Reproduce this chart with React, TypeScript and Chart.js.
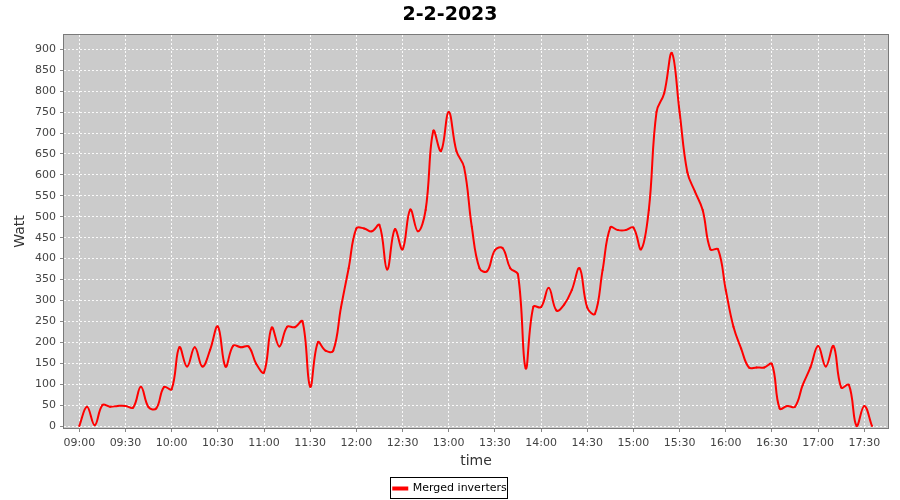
import React, { useEffect, useRef } from "react";
import { Chart, registerables } from "chart.js";

Chart.register(...registerables);

const chartTitle = "2-2-2023";
const seriesLabel = "Merged inverters";
const xTitle = "time";
const yTitle = "Watt";

const times = [
  "09:00", "09:05", "09:10", "09:15", "09:20", "09:25", "09:30", "09:35", "09:40", "09:45", "09:50", "09:55",
  "10:00", "10:05", "10:10", "10:15", "10:20", "10:25", "10:30", "10:35", "10:40", "10:45", "10:50", "10:55",
  "11:00", "11:05", "11:10", "11:15", "11:20", "11:25", "11:30", "11:35", "11:40", "11:45", "11:50", "11:55",
  "12:00", "12:05", "12:10", "12:15", "12:20", "12:25", "12:30", "12:35", "12:40", "12:45", "12:50", "12:55",
  "13:00", "13:05", "13:10", "13:15", "13:20", "13:25", "13:30", "13:35", "13:40", "13:45", "13:50", "13:55",
  "14:00", "14:05", "14:10", "14:15", "14:20", "14:25", "14:30", "14:35", "14:40", "14:45", "14:50", "14:55",
  "15:00", "15:05", "15:10", "15:15", "15:20", "15:25", "15:30", "15:35", "15:40", "15:45", "15:50", "15:55",
  "16:00", "16:05", "16:10", "16:15", "16:20", "16:25", "16:30", "16:35", "16:40", "16:45", "16:50", "16:55",
  "17:00", "17:05", "17:10", "17:15", "17:20", "17:25", "17:30", "17:35",
];

const watts = [
  0, 46, 2, 50, 46, 48, 48, 44, 94, 45, 42, 93,
  88, 188, 142, 188, 142, 182, 238, 142, 192, 188, 190, 148,
  128, 235, 190, 237, 236, 250, 94, 200, 180, 180, 283, 377,
  472, 472, 465, 480, 374, 470, 422, 517, 465, 516, 705, 657,
  750, 657, 618, 476, 377, 370, 420, 425, 377, 362, 138, 285,
  284, 330, 276, 290, 325, 377, 283, 268, 373, 474, 468, 468,
  474, 422, 516, 750, 795, 891, 750, 607, 560, 516, 422, 422,
  325, 237, 185, 140, 140, 140, 148, 42, 48, 46, 98, 140,
  191, 142, 191, 92, 98, 0, 48, 0,
];

const xTickLabels = [
  "09:00", "09:30", "10:00", "10:30", "11:00", "11:30", "12:00", "12:30", "13:00",
  "13:30", "14:00", "14:30", "15:00", "15:30", "16:00", "16:30", "17:00", "17:30",
];

const yTickValues = [0, 50, 100, 150, 200, 250, 300, 350, 400, 450, 500, 550, 600, 650, 700, 750, 800, 850, 900];

const toMinutes = (s: string) => {
  const [h, m] = s.split(":").map(Number);
  return h * 60 + m;
};
const fmt = (v: number) => {
  const h = Math.floor(v / 60);
  const m = Math.round(v - h * 60);
  return String(h).padStart(2, "0") + ":" + String(m).padStart(2, "0");
};

const FONT = "'DejaVu Sans', sans-serif";
const PAD_BOTTOM = -4;

const plotBgPlugin = {
  id: "plotBg",
  beforeDraw(chart: any) {
    const { ctx, chartArea: a } = chart;
    ctx.save();
    ctx.fillStyle = "#cbcbcb";
    ctx.fillRect(a.left, a.top, a.right - a.left, a.bottom - a.top);
    ctx.restore();
  },
  afterDraw(chart: any) {
    const { ctx, chartArea: a } = chart;
    ctx.save();
    ctx.strokeStyle = "#7a7a7a";
    ctx.lineWidth = 1;
    ctx.strokeRect(Math.round(a.left) - 0.5, Math.round(a.top) - 0.5, Math.round(a.right - a.left) + 1, Math.round(a.bottom - a.top) + 1);
    const lg = chart.legend;
    if (lg && lg.legendHitBoxes && lg.legendHitBoxes.length) {
      const hb = lg.legendHitBoxes[0];
      ctx.strokeStyle = "#000";
      ctx.strokeRect(Math.round(hb.left) - 2.5, Math.round(hb.top) - 5.5, Math.round(hb.width) + 4, Math.round(hb.height) + 10);
    }
    ctx.restore();
  },
};

export default function App() {
  const ref = useRef<HTMLCanvasElement | null>(null);

  useEffect(() => {
    if (!ref.current) return;
    const points = times.map((t, i) => ({ x: toMinutes(t), y: watts[i] }));
    const x0 = toMinutes(xTickLabels[0]);
    const pxPerMin = 1.5392;
    const xMin = x0 - (79.3 - 64) / pxPerMin;
    const xMax = x0 + (888 - 79.3) / pxPerMin;
    const pxPerUnit = (426 - 49.3) / 900;
    const yMin = -(428 - 426) / pxPerUnit;
    const yMax = 900 + (49.3 - 35) / pxPerUnit;

    const chart = new Chart(ref.current, {
      type: "line",
      data: {
        datasets: [
          {
            label: seriesLabel,
            data: points,
            borderColor: "#ff0000",
            backgroundColor: "#ff0000",
            borderWidth: 2,
            pointRadius: 1,
            pointBorderWidth: 0,
            pointBackgroundColor: "#ff0000",
            tension: 0.4,
            fill: false,
          },
        ],
      },
      options: {
        animation: false,
        responsive: true,
        maintainAspectRatio: false,
        layout: { padding: { left: 12, right: 12, top: 0, bottom: PAD_BOTTOM } },
        plugins: {
          title: {
            display: true,
            text: chartTitle,
            color: "#000",
            font: { family: FONT, size: 19, weight: "bold" },
            padding: { top: 4, bottom: 8.2 },
          },
          legend: {
            display: true,
            position: "bottom",
            labels: {
              color: "#000",
              font: { family: FONT, size: 11 },
              boxWidth: 14,
              boxHeight: 2,
              padding: 3,
            },
          },
          tooltip: { enabled: false },
        },
        scales: {
          x: {
            type: "linear",
            min: xMin,
            max: xMax,
            afterFit(scale: any) {
              const lh = scale.chart.legend ? scale.chart.legend.height : 30;
              scale.height = 500 - PAD_BOTTOM - 428 - lh;
            },
            afterBuildTicks(scale: any) {
              scale.ticks = xTickLabels.map((s) => ({ value: toMinutes(s) }));
            },
            ticks: {
              color: "#444",
              font: { family: FONT, size: 11 },
              padding: 5,
              maxRotation: 0,
              autoSkip: false,
              callback: (v: any) => fmt(Number(v)),
            },
            grid: {
              color: "rgba(255,255,255,0.9)",
              lineWidth: 1,
              drawTicks: true,
              tickLength: 4,
              tickColor: "#888",
            },
            border: { display: false, dash: [2, 2] },
            title: {
              display: true,
              text: xTitle,
              color: "#333",
              font: { family: FONT, size: 14 },
              padding: { top: 0, bottom: 10 },
            },
          },
          y: {
            type: "linear",
            min: yMin,
            max: yMax,
            afterFit(scale: any) {
              scale.width = 52;
            },
            afterBuildTicks(scale: any) {
              scale.ticks = yTickValues.map((v) => ({ value: v }));
            },
            ticks: {
              color: "#444",
              font: { family: FONT, size: 11 },
              padding: 4,
              autoSkip: false,
              callback: (v: any) => String(v),
            },
            grid: {
              color: "rgba(255,255,255,0.9)",
              lineWidth: 1,
              drawTicks: true,
              tickLength: 4,
              tickColor: "#888",
            },
            border: { display: false, dash: [2, 2] },
            title: {
              display: true,
              text: yTitle,
              color: "#333",
              font: { family: FONT, size: 14 },
              padding: { top: 0, bottom: 0 },
            },
          },
        },
      },
      plugins: [plotBgPlugin],
    });
    return () => chart.destroy();
  }, []);

  return (
    <div style={{ position: "fixed", left: 0, top: 0, width: 900, height: 500, background: "#fff" }}>
      <canvas ref={ref} />
    </div>
  );
}
